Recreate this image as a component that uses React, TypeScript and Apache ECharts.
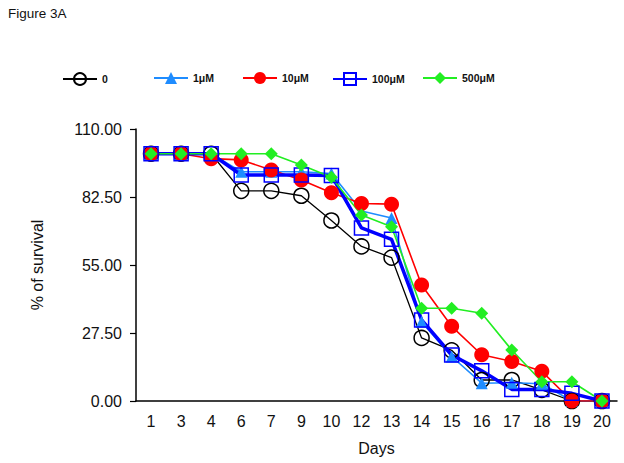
import React, { useEffect, useRef } from "react";
import * as echarts from "echarts";

const days = ["1", "3", "4", "6", "7", "9", "10", "12", "13", "14", "15", "16", "17", "18", "19", "20"];
const yTicks = [0, 27.5, 55, 82.5, 110];

const s0 = [100, 100, 100, 85, 85, 83, 73, 62.5, 58, 25.5, 20.5, 8.5, 8.5, 4.5, 0, 0];
const s1 = [100, 100, 100, 92.7, 92.7, 92.7, 92, 76.8, 74, 32, 18, 7.2, 7.4, 7, 0, 0];
const s10 = [100, 100, 98, 97.5, 93.4, 89.4, 84.2, 79.9, 79.6, 46.9, 30.2, 18.7, 16, 12, 0, 0];
const s100 = [100, 100, 100, 91.4, 91.4, 91.4, 91.2, 70, 65.4, 32.8, 18.6, 12.2, 4.7, 4.7, 3.1, 0];
const s500 = [100, 100, 100, 100, 100, 95.4, 90.5, 75.2, 70.5, 37.5, 37.5, 35.5, 20.6, 7.8, 7.8, 0];

const seriesNames = ["0", "1μM", "10μM", "100μM", "500μM"];
const FONT = "'Liberation Sans', Arial, sans-serif";

export default function App() {
  const ref = useRef<HTMLDivElement>(null);
  useEffect(() => {
    if (!ref.current) return;
    const chart = echarts.init(ref.current, undefined, { renderer: "svg" });
    const mk = (
      name: string,
      data: number[],
      color: string,
      symbol: string,
      size: number,
      lineWidth: number,
      hollow: boolean
    ) => ({
      name,
      type: "line",
      data,
      symbol,
      symbolSize: size,
      showAllSymbol: true,
      lineStyle: { color, width: lineWidth },
      itemStyle: hollow
        ? { color: "rgba(0,0,0,0)", borderColor: color, borderWidth: 1.5 }
        : { color, borderColor: color, borderWidth: 0 },
      emphasis: { disabled: true },
    });
    const legendLefts = [57, 148, 237, 327, 417];
    chart.setOption({
      animation: false,
      backgroundColor: "#ffffff",
      title: {
        text: "Figure 3A",
        left: 3,
        top: 1,
        textStyle: { fontFamily: FONT, fontSize: 13.5, fontWeight: "normal", color: "#111" },
      },
      legend: seriesNames.map((n, i) => ({
        data: [n],
        left: legendLefts[i],
        top: 67,
        itemWidth: 34,
        itemHeight: 15,
        selectedMode: false,
        textStyle: {
          fontFamily: FONT,
          fontSize: 10.5,
          fontWeight: "bold",
          color: "#111",
        },
      })),
      grid: { left: 136, right: 7, top: 129, bottom: 62, containLabel: false },
      xAxis: {
        type: "category",
        data: days,
        boundaryGap: true,
        name: "Days",
        nameLocation: "middle",
        nameGap: 39,
        nameTextStyle: { fontFamily: FONT, fontSize: 16, color: "#111" },
        axisLine: { lineStyle: { color: "#000", width: 1.5 } },
        axisTick: { alignWithLabel: true, inside: true, length: 5, lineStyle: { color: "#000", width: 1.2 } },
        axisLabel: { fontFamily: FONT, fontSize: 16, color: "#111", margin: 12, interval: 0 },
        splitLine: { show: false },
      },
      yAxis: {
        type: "value",
        min: yTicks[0],
        max: yTicks[yTicks.length - 1],
        interval: 27.5,
        name: "% of survival",
        nameLocation: "middle",
        nameGap: 91,
        nameRotate: 90,
        nameTextStyle: { fontFamily: FONT, fontSize: 16, color: "#111" },
        axisLine: { show: true, lineStyle: { color: "#000", width: 1.5 } },
        axisTick: { show: true, inside: false, length: 6, lineStyle: { color: "#000", width: 1.2 } },
        axisLabel: {
          fontFamily: FONT,
          fontSize: 16,
          color: "#111",
          margin: 14,
          formatter: (v: number) => v.toFixed(2),
        },
        splitLine: { show: false },
      },
      series: [
        mk(seriesNames[0], s0, "#000000", "circle", 15, 1.3, true),
        mk(seriesNames[1], s1, "#1e8cff", "triangle", 12, 1.6, false),
        mk(seriesNames[2], s10, "#ff0000", "circle", 15, 1.6, false),
        mk(seriesNames[3], s100, "#0000ff", "rect", 14, 3.5, true),
        mk(seriesNames[4], s500, "#22ee22", "diamond", 13, 1.6, false),
      ],
    });
    return () => chart.dispose();
  }, []);
  return (
    <div
      ref={ref}
      style={{ position: "fixed", left: 0, top: 0, width: 624, height: 463, background: "#fff" }}
    />
  );
}
